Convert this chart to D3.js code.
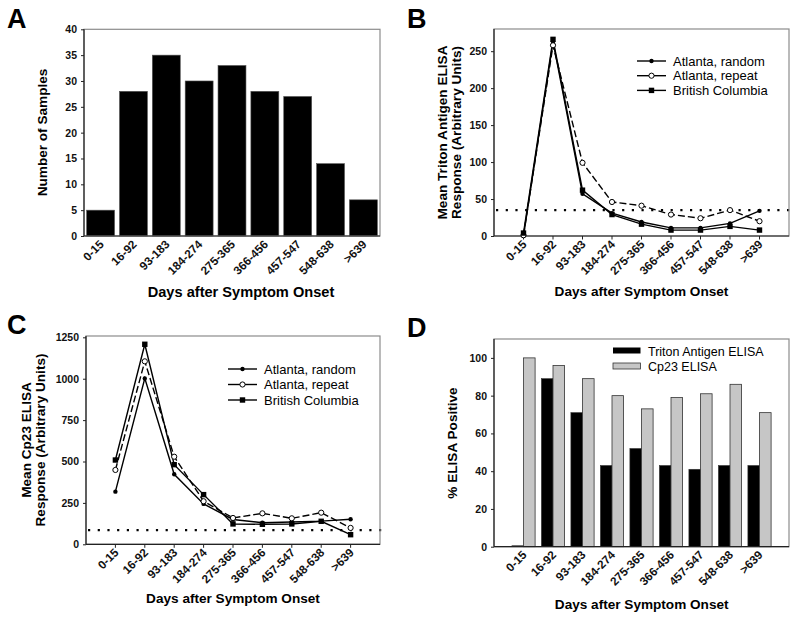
<!DOCTYPE html>
<html><head><meta charset="utf-8">
<script src="https://cdn.jsdelivr.net/npm/d3@7"></script>
<style>
body{margin:0;background:#fff;}
text{font-family:"Liberation Sans",Arial,sans-serif;}
</style></head>
<body><svg id="c" width="800" height="618"></svg>
<script>
const categories = ["0-15","16-92","93-183","184-274","275-365","366-456","457-547","548-638",">639"];
// Panel A
const sampleCounts = [5, 28, 35, 30, 33, 28, 27, 14, 7];
const ticksA = [0,5,10,15,20,25,30,35,40];
// Panel B (Triton antigen ELISA)
const tritonRandom = [0, 263, 57, 31, 19, 11, 11, 17, 34];
const tritonRepeat = [1, 258, 99, 46, 41, 29, 24, 35, 20];
const tritonBC     = [4, 266, 62, 29, 16, 8, 8, 13, 8];
const tritonCutoff = 35;
const ticksB = [0,50,100,150,200,250];
// Panel C (Cp23 ELISA)
const cp23Random = [318, 1002, 423, 244, 150, 130, 135, 140, 151];
const cp23Repeat = [449, 1105, 529, 260, 159, 187, 157, 191, 99];
const cp23BC     = [509, 1208, 481, 300, 123, 121, 123, 139, 58];
const cp23Cutoff = 86;
const ticksC = [0,250,500,750,1000,1250];
// Panel D (% positive)
const pctTriton = [0.5, 89, 71, 43, 52, 43, 41, 43, 43];
const pctCp23   = [100, 96, 89, 80, 73, 79, 81, 86, 71];
const ticksD = [0,20,40,60,80,100];
const seriesNames = ["Atlanta, random","Atlanta, repeat","British Columbia"];
const barNames = ["Triton Antigen ELISA","Cp23 ELISA"];

const svg = d3.select("#c");

function frame(g, x0, x1, y0, y1){
  g.append("rect").attr("x",x0).attr("y",y0).attr("width",x1-x0).attr("height",y1-y0)
   .attr("fill","none").attr("stroke","#8c8c8c").attr("stroke-width",1.2);
  g.append("line").attr("x1",x0).attr("x2",x0).attr("y1",y0).attr("y2",y1).attr("stroke","#222").attr("stroke-width",1.2);
  g.append("line").attr("x1",x0).attr("x2",x1).attr("y1",y1).attr("y2",y1).attr("stroke","#222").attr("stroke-width",1.2);
}
function yAxis(g, y, x0, ticks){
  const ax = g.append("g").attr("transform",`translate(${x0},0)`)
    .call(d3.axisLeft(y).tickValues(ticks).tickSize(3).tickPadding(4).tickFormat(d3.format("d")));
  ax.select(".domain").remove();
  ax.selectAll("line").attr("stroke","#222");
  ax.selectAll("text").attr("font-size","10.5px").attr("font-weight","bold").attr("fill","#111")
    .style("font-family",'"Liberation Sans",Arial,sans-serif');
}
function xLabels(g, xs, yb){
  g.selectAll(null).data(categories).join("text")
    .attr("transform",(d,i)=>`translate(${xs(i)+4},${yb+9}) rotate(-45)`)
    .attr("text-anchor","end").attr("font-size","11.8px").attr("font-weight","bold").attr("fill","#111")
    .text(d=>d);
}
function letter(t,x,y){
  svg.append("text").attr("x",x).attr("y",y).attr("font-size","27px").attr("font-weight","bold").text(t);
}
function yTitle(lines, xs, cy, size){
  lines.forEach((t,i)=>{
    svg.append("text").attr("transform",`translate(${xs[i]},${cy}) rotate(-90)`)
      .attr("text-anchor","middle").attr("font-size",size+"px").attr("font-weight","bold").text(t);
  });
}
function xTitle(t, cx, y, size){
  svg.append("text").attr("x",cx).attr("y",y).attr("text-anchor","middle")
    .attr("font-size",size+"px").attr("font-weight","bold").text(t);
}
function marker(g, type, x, y){
  if(type==="fc") g.append("circle").attr("cx",x).attr("cy",y).attr("r",2.2).attr("fill","#000");
  else if(type==="oc") g.append("circle").attr("cx",x).attr("cy",y).attr("r",2.6).attr("fill","#fff").attr("stroke","#000").attr("stroke-width",1);
  else g.append("rect").attr("x",x-2.7).attr("y",y-2.7).attr("width",5.4).attr("height",5.4).attr("fill","#000");
}

// ---------- Panel A ----------
(function(){
  const g = svg.append("g");
  const x0=84,x1=380,y0=29.3,y1=236;
  const x = d3.scaleBand().domain(d3.range(9)).range([x0,x1]).paddingInner(0.15).paddingOuter(0.08);
  const y = d3.scaleLinear().domain([0,40]).range([y1,y0]);
  g.selectAll(null).data(sampleCounts).join("rect")
    .attr("x",(d,i)=>x(i)).attr("width",x.bandwidth())
    .attr("y",d=>y(d)).attr("height",d=>y1-y(d)).attr("fill","#000").attr("stroke","#555").attr("stroke-width",0.6);
  frame(g,x0,x1,y0,y1);
  yAxis(g,y,x0,ticksA);
  xLabels(g, i=>x(i)+x.bandwidth()/2, y1);
  letter("A",7,28);
  yTitle(["Number of Samples"],[47],132.5,13.6);
  xTitle("Days after Symptom Onset",241,297,14.6);
})();

// ---------- line panels ----------
function linePanel(opts){
  const g = svg.append("g");
  const {x0,x1,y0,y1,ymax,series,cutoff,ticks,legX,legY,legDy} = opts;
  const x = d3.scaleLinear().domain([0,10]).range([x0,x1]);
  const y = d3.scaleLinear().domain([0,ymax]).range([y1,y0]);
  g.append("line").attr("x1",x0+2).attr("x2",x1+4).attr("y1",y(cutoff)).attr("y2",y(cutoff))
    .attr("stroke","#000").attr("stroke-width",2.2).attr("stroke-dasharray","2.2,7.5");
  frame(g,x0,x1,y0,y1);
  yAxis(g,y,x0,ticks);
  g.selectAll(null).data(categories).join("line")
    .attr("x1",(d,i)=>x(i+1)).attr("x2",(d,i)=>x(i+1)).attr("y1",y1).attr("y2",y1+3.5).attr("stroke","#222");
  xLabels(g, i=>x(i+1), y1);
  const line = d3.line().x((d,i)=>x(i+1)).y(d=>y(d));
  series.forEach(s=>{
    g.append("path").datum(s.values).attr("d",line).attr("fill","none").attr("stroke","#000")
      .attr("stroke-width",1.4).attr("stroke-dasharray",s.dash||null);
  });
  series.forEach(s=>{ s.values.forEach((v,i)=>marker(g,s.m,x(i+1),y(v))); });
  series.forEach((s,k)=>{
    const yy = legY + k*legDy;
    g.append("line").attr("x1",legX).attr("x2",legX+29).attr("y1",yy).attr("y2",yy)
      .attr("stroke","#000").attr("stroke-width",1.4);
    marker(g,s.m,legX+14.5,yy);
    g.append("text").attr("x",legX+36).attr("y",yy+4.7).attr("font-size","13px").text(s.name);
  });
}
linePanel({x0:494,x1:789,y0:29,y1:236,ymax:280,cutoff:tritonCutoff,ticks:ticksB,
  legX:637,legY:61,legDy:14.7,
  series:[{name:seriesNames[0],values:tritonRandom,m:"fc"},
          {name:seriesNames[1],values:tritonRepeat,m:"oc",dash:"7,3"},
          {name:seriesNames[2],values:tritonBC,m:"sq"}]});
letter("B",407,28);
yTitle(["Mean Triton Antigen ELISA","Response (Arbitrary Units)"],[447,461],132.5,13.6);
xTitle("Days after Symptom Onset",641.5,296,13.6);

linePanel({x0:86,x1:380,y0:336,y1:544.3,ymax:1258,cutoff:cp23Cutoff,ticks:ticksC,
  legX:228,legY:369,legDy:15.5,
  series:[{name:seriesNames[0],values:cp23Random,m:"fc"},
          {name:seriesNames[1],values:cp23Repeat,m:"oc",dash:"7,3"},
          {name:seriesNames[2],values:cp23BC,m:"sq"}]});
letter("C",7,334);
yTitle(["Mean Cp23 ELISA","Response (Arbitrary Units)"],[31,45],440,13.6);
xTitle("Days after Symptom Onset",233,603,13.6);

// ---------- Panel D ----------
(function(){
  const g = svg.append("g");
  const x0=494,x1=789,y0=339,y1=546.7;
  const x = d3.scaleLinear().domain([0,10]).range([x0,x1]);
  const y = d3.scaleLinear().domain([0,110]).range([y1,y0]);
  const bw = 11.6;
  g.selectAll(null).data(pctTriton).join("rect")
    .attr("x",(d,i)=>x(i+1)-bw).attr("width",bw).attr("y",d=>y(d)).attr("height",d=>y1-y(d))
    .attr("fill","#000").attr("stroke","#333").attr("stroke-width",0.6);
  g.selectAll(null).data(pctCp23).join("rect")
    .attr("x",(d,i)=>x(i+1)).attr("width",bw).attr("y",d=>y(d)).attr("height",d=>y1-y(d))
    .attr("fill","#c6c6c6").attr("stroke","#333").attr("stroke-width",0.8);
  frame(g,x0,x1,y0,y1);
  yAxis(g,y,x0,ticksD);
  xLabels(g, i=>x(i+1), y1);
  g.append("rect").attr("x",613).attr("y",347.5).attr("width",27.5).attr("height",6).attr("fill","#000");
  g.append("rect").attr("x",613).attr("y",363).attr("width",27.5).attr("height",6).attr("fill","#c6c6c6").attr("stroke","#333").attr("stroke-width",0.8);
  g.append("text").attr("x",648).attr("y",355.5).attr("font-size","12.5px").text(barNames[0]);
  g.append("text").attr("x",648).attr("y",371).attr("font-size","12.5px").text(barNames[1]);
})();
letter("D",407,337);
yTitle(["% ELISA Positive"],[456.5],443,13.6);
xTitle("Days after Symptom Onset",641.7,609,13.6);
</script>
</body></html>
